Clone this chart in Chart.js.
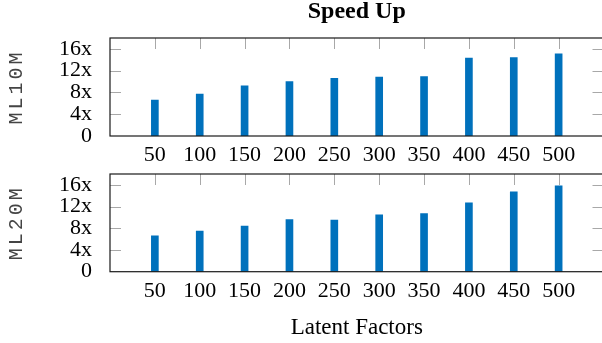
<!DOCTYPE html>
<html>
<head>
<meta charset="utf-8">
<script src="https://cdn.jsdelivr.net/npm/chart.js@4.4.1/dist/chart.umd.min.js"></script>
<style>
  html, body { margin: 0; padding: 0; background: #fff; overflow: hidden; }
  .wrap { position: absolute; left: 0; top: 0; width: 612px; height: 343px; }
</style>
</head>
<body>
<div class="wrap"><canvas id="topChart" width="612" height="343"></canvas></div>
<div class="wrap"><canvas id="bottomChart" width="612" height="343"></canvas></div>
<script>
// data
const factors = [50, 100, 150, 200, 250, 300, 350, 400, 450, 500];
const ml10m = [6.6, 7.7, 9.2, 10.0, 10.6, 10.8, 10.9, 14.3, 14.4, 15.1];
const ml20m = [6.6, 7.5, 8.4, 9.6, 9.5, 10.5, 10.7, 12.7, 14.7, 15.8];
const yTicks = [0, 4, 8, 12, 16];
const yTickLabels = ['0', '4x', '8x', '12x', '16x'];

const SERIF = "'Liberation Serif', 'Times New Roman', serif";
const MONO = "'Liberation Mono', 'Courier New', monospace";
const BAR_COLOR = '#0071bc';

// frame + inward tick marks, like pgfplots
const frame = {
  id: 'frame',
  afterLayout(chart) {
    // wider letter spacing for the typewriter y titles
    const y = chart.scales.y;
    if (y && !y._spaced) {
      const orig = y.drawTitle;
      y.drawTitle = function () {
        this.ctx.save();
        this.ctx.letterSpacing = '3px';
        orig.call(this);
        this.ctx.restore();
      };
      y._spaced = true;
    }
  },
  beforeDatasetsDraw(chart) {
    const { ctx, chartArea: a, scales } = chart;
    ctx.save();
    ctx.strokeStyle = '#a8a8a8';
    ctx.lineWidth = 1;
    ctx.beginPath();
    scales.x.ticks.forEach(t => {
      const px = Math.round(scales.x.getPixelForValue(t.value)) + 0.5;
      ctx.moveTo(px, a.top);
      ctx.lineTo(px, a.top + 11);
    });
    scales.y.ticks.forEach(t => {
      if (t.value === 0) return;
      const py = Math.round(scales.y.getPixelForValue(t.value)) + 0.5;
      ctx.moveTo(a.left, py);
      ctx.lineTo(a.left + 11, py);
      ctx.moveTo(a.right - 11, py);
      ctx.lineTo(a.right, py);
    });
    ctx.stroke();
    ctx.restore();
  },
  afterDatasetsDraw(chart) {
    const { ctx, chartArea: a } = chart;
    ctx.save();
    ctx.strokeStyle = '#1a1a1a';
    ctx.lineWidth = 1.2;
    ctx.strokeRect(a.left, a.top, a.right - a.left, a.bottom - a.top);
    ctx.restore();
  }
};

function xScale(extra) {
  return Object.assign({
    type: 'linear',
    min: 0,
    max: 550,
    offset: false,
    grid: { display: false },
    border: { display: false },
    afterBuildTicks: s => { s.ticks = factors.map(v => ({ value: v })); },
    ticks: {
      color: '#000',
      autoSkip: false,
      maxRotation: 0,
      padding: -2,
      font: { family: SERIF, size: 22 },
      callback: v => String(v)
    }
  }, extra);
}

function yScale(name) {
  return {
    min: 0,
    max: 18,
    grid: { display: false },
    border: { display: false },
    afterBuildTicks: s => { s.ticks = yTicks.map(v => ({ value: v })); },
    afterFit: s => { s.width = 110; },
    ticks: {
      color: '#000',
      autoSkip: false,
      padding: 10,
      font: { family: SERIF, size: 22 },
      callback: v => yTickLabels[yTicks.indexOf(v)]
    },
    title: {
      display: true,
      text: name,
      color: '#444',
      padding: { top: 5, bottom: 0 },
      font: { family: MONO, size: 20 }
    }
  };
}

function dataset(values) {
  return [{
    data: factors.map((f, i) => ({ x: f, y: values[i] })),
    backgroundColor: BAR_COLOR,
    borderWidth: 0,
    barThickness: 7
  }];
}

new Chart(document.getElementById('topChart'), {
  type: 'bar',
  data: { datasets: dataset(ml10m) },
  plugins: [frame],
  options: {
    responsive: false,
    animation: false,
    devicePixelRatio: 1,
    layout: { padding: { left: 0, right: 8.5, top: 0, bottom: 173 } },
    plugins: {
      legend: { display: false },
      tooltip: { enabled: false },
      title: {
        display: true,
        fullSize: false,
        text: 'Speed Up',
        color: '#000',
        padding: { top: 0, bottom: 14 },
        font: { family: SERIF, size: 24, weight: 'bold', lineHeight: 1 }
      }
    },
    scales: {
      x: xScale({ afterFit: s => { s.height = 34; } }),
      y: yScale('ML10M')
    }
  }
});

new Chart(document.getElementById('bottomChart'), {
  type: 'bar',
  data: { datasets: dataset(ml20m) },
  plugins: [frame],
  options: {
    responsive: false,
    animation: false,
    devicePixelRatio: 1,
    layout: { padding: { left: 0, right: 8.5, top: 174, bottom: 0 } },
    plugins: {
      legend: { display: false },
      tooltip: { enabled: false }
    },
    scales: {
      x: xScale({
        afterFit: s => { s.height = 71.3; },
        title: {
          display: true,
          text: 'Latent Factors',
          color: '#000',
          padding: { top: 0, bottom: 1 },
          font: { family: SERIF, size: 23 }
        }
      }),
      y: yScale('ML20M')
    }
  }
});
</script>
</body>
</html>
